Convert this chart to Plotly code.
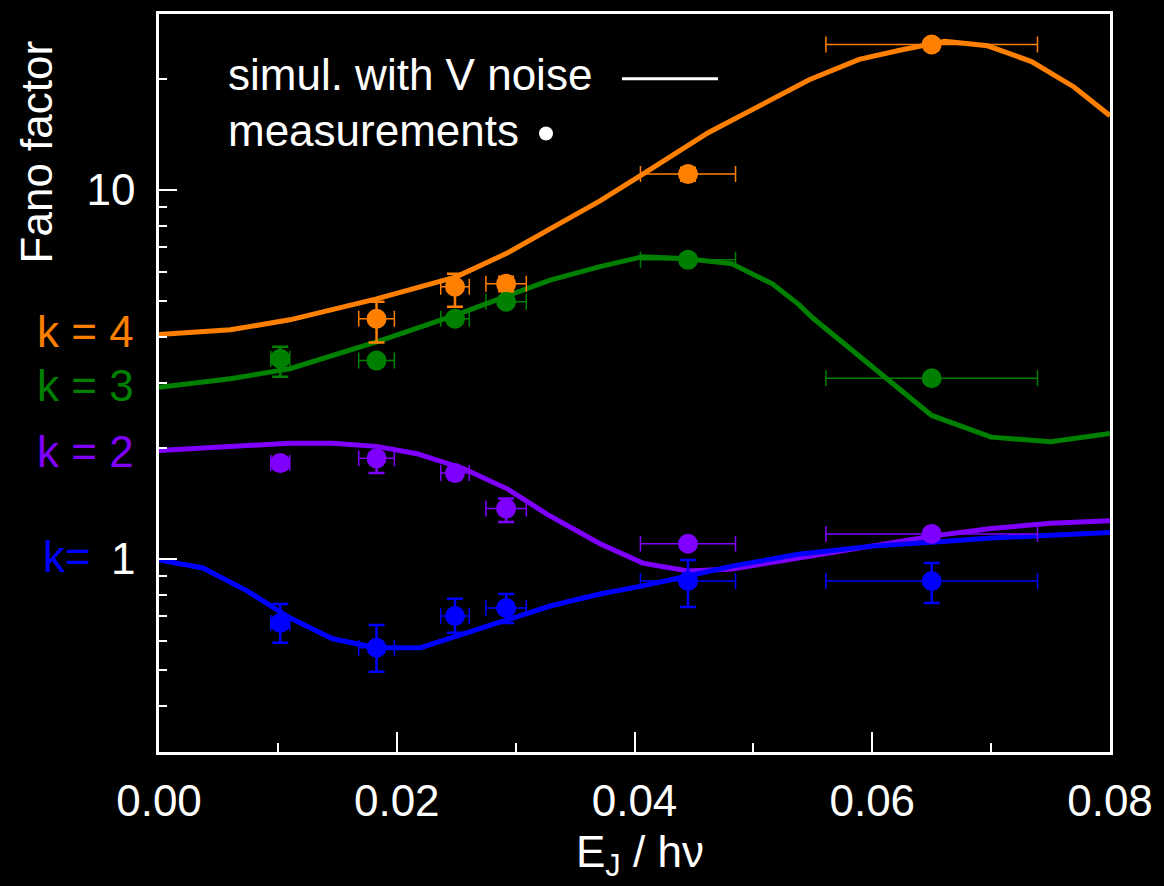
import plotly.graph_objects as go
import numpy as np

# ---------------- data ----------------
# simulated curves (x = E_J / h nu)
x_k4 = [0, 0.006, 0.011, 0.0183, 0.025, 0.0293, 0.0329, 0.0371, 0.0407, 0.0462, 0.0547, 0.0589, 0.0625, 0.0661, 0.0697, 0.0734, 0.077, 0.08]
y_k4 = [4.06, 4.18, 4.45, 5.07, 5.82, 6.75, 7.85, 9.35, 11.05, 14.3, 19.9, 22.6, 24.0, 25.3, 24.6, 22.3, 19.0, 15.9]

x_k3 = [0, 0.006, 0.011, 0.0183, 0.025, 0.0293, 0.0329, 0.0371, 0.0407, 0.0445, 0.0482, 0.0516, 0.0538, 0.055, 0.06, 0.065, 0.07, 0.075, 0.08]
y_k3 = [2.92, 3.08, 3.28, 3.88, 4.59, 5.15, 5.70, 6.20, 6.60, 6.51, 6.31, 5.57, 4.90, 4.50, 3.32, 2.45, 2.14, 2.08, 2.19]

x_k2 = [0, 0.006, 0.011, 0.0146, 0.0183, 0.0217, 0.0256, 0.0293, 0.0327, 0.0371, 0.0407, 0.0445, 0.0482, 0.0538, 0.06, 0.065, 0.07, 0.075, 0.08]
y_k2 = [1.97, 2.02, 2.06, 2.06, 2.02, 1.93, 1.76, 1.55, 1.32, 1.10, 0.975, 0.928, 0.940, 1.006, 1.084, 1.154, 1.21, 1.25, 1.27]

x_k1 = [0, 0.0037, 0.0074, 0.011, 0.0146, 0.0183, 0.022, 0.0256, 0.0293, 0.0329, 0.0371, 0.0407, 0.0445, 0.0482, 0.0538, 0.06, 0.065, 0.07, 0.075, 0.08]
y_k1 = [0.994, 0.946, 0.820, 0.693, 0.608, 0.575, 0.575, 0.627, 0.680, 0.746, 0.804, 0.846, 0.900, 0.957, 1.03, 1.084, 1.11, 1.14, 1.16, 1.18]

# measurements
mx_k4 = [0.0183, 0.0249, 0.0292, 0.0445, 0.065]
my_k4 = [4.48, 5.47, 5.57, 11.05, 24.8]
my_k4_up = [0.50, 0.46, 0.25, 0.45, 0.8]
my_k4_dn = [0.62, 0.64, 0.25, 0.45, 0.8]
mxe_k4 = [0.0015, 0.0012, 0.0017, 0.004, 0.0089]

mx_k3 = [0.0102, 0.0183, 0.0249, 0.0292, 0.0445, 0.065]
my_k3 = [3.49, 3.45, 4.48, 4.98, 6.47, 3.09]
my_k3_up = [0.27, 0.10, 0.12, 0.12, 0.15, 0.08]
my_k3_dn = [0.37, 0.10, 0.12, 0.12, 0.15, 0.08]
mxe_k3 = [0.0008, 0.0015, 0.0012, 0.0017, 0.004, 0.0089]

mx_k2 = [0.0102, 0.0183, 0.0249, 0.0292, 0.0445, 0.065]
my_k2 = [1.82, 1.875, 1.71, 1.37, 1.10, 1.17]
my_k2_up = [0.06, 0.06, 0.05, 0.09, 0.03, 0.03]
my_k2_dn = [0.06, 0.165, 0.05, 0.11, 0.03, 0.03]
mxe_k2 = [0.0008, 0.0015, 0.0012, 0.0017, 0.004, 0.0089]

mx_k1 = [0.0102, 0.0183, 0.0249, 0.0292, 0.0445, 0.065]
my_k1 = [0.671, 0.575, 0.701, 0.737, 0.872, 0.872]
my_k1_up = [0.085, 0.088, 0.079, 0.067, 0.122, 0.103]
my_k1_dn = [0.078, 0.080, 0.070, 0.066, 0.130, 0.112]
mxe_k1 = [0.0008, 0.0015, 0.0012, 0.0017, 0.004, 0.0089]

colors = {"k4": "#FF8000", "k3": "#008000", "k2": "#8000FF", "k1": "#0000FF"}

x_major = [0, 0.02, 0.04, 0.06, 0.08]
x_major_text = ["0.00", "0.02", "0.04", "0.06", "0.08"]
x_minor = [0.01, 0.03, 0.05, 0.07]
y_major = [1, 10]
y_major_text = ["1", "10"]
y_minor = [0.4, 0.5, 0.6, 0.7, 0.8, 0.9, 2, 3, 4, 5, 6, 7, 8, 9, 20]

FONT = "Liberation Sans, Arial, sans-serif"
FS = 44

fig = go.Figure()

curves = [("k4", x_k4, y_k4), ("k3", x_k3, y_k3), ("k2", x_k2, y_k2), ("k1", x_k1, y_k1)]
for key, xs, ys in curves:
    fig.add_trace(go.Scatter(x=xs, y=ys, mode="lines",
                             line=dict(color=colors[key], width=5),
                             showlegend=False, hoverinfo="skip"))

meas = [("k4", mx_k4, my_k4, my_k4_up, my_k4_dn, mxe_k4),
        ("k3", mx_k3, my_k3, my_k3_up, my_k3_dn, mxe_k3),
        ("k2", mx_k2, my_k2, my_k2_up, my_k2_dn, mxe_k2),
        ("k1", mx_k1, my_k1, my_k1_up, my_k1_dn, mxe_k1)]
for key, xs, ys, up, dn, xe in meas:
    c = colors[key]
    fig.add_trace(go.Scatter(
        x=xs, y=ys, mode="markers",
        marker=dict(color=c, size=20, line=dict(width=0)),
        error_y=dict(type="data", array=up, arrayminus=dn, color=c, thickness=2.5, width=8),
        error_x=dict(type="data", array=xe, color=c, thickness=1.5, width=8),
        showlegend=False, hoverinfo="skip"))

L, R, T, B = 159, 54, 11, 134
W, H = 1164, 886
pw, ph = W - L - R, H - T - B


def px(xp):
    return (xp - L) / pw


def py(yp):
    return (H - B - yp) / ph


annotations = [
    dict(text="simul. with V noise", x=px(226), y=py(72), xanchor="left", yanchor="middle"),
    dict(text="measurements", x=px(226), y=py(128), xanchor="left", yanchor="middle"),
    dict(text="k = 4", x=px(136), y=py(330), xanchor="right", yanchor="middle", font=dict(color=colors["k4"], size=FS, family=FONT)),
    dict(text="k = 3", x=px(136), y=py(384), xanchor="right", yanchor="middle", font=dict(color=colors["k3"], size=FS, family=FONT)),
    dict(text="k = 2", x=px(136), y=py(450), xanchor="right", yanchor="middle", font=dict(color=colors["k2"], size=FS, family=FONT)),
    dict(text="k=", x=px(93), y=py(556), xanchor="right", yanchor="middle", font=dict(color=colors["k1"], size=FS, family=FONT)),
    dict(text="Fano factor", x=px(36), y=py(150), xanchor="center", yanchor="middle", textangle=-90),
    dict(text="E<sub>J</sub> / hν", x=px(640), y=py(855), xanchor="center", yanchor="middle"),
]
for a in annotations:
    a.setdefault("font", dict(color="white", size=FS, family=FONT))
    a.update(xref="paper", yref="paper", showarrow=False)

shapes = [
    dict(type="line", xref="paper", yref="paper", x0=px(622), x1=px(718), y0=py(76), y1=py(76),
         line=dict(color="white", width=3)),
    dict(type="circle", xref="paper", yref="paper", x0=px(539), x1=px(553), y0=py(138), y1=py(124),
         fillcolor="white", line=dict(color="white", width=0)),
]

fig.update_layout(
    width=W, height=H,
    margin=dict(l=L, r=R, t=T, b=B, pad=0),
    paper_bgcolor="black", plot_bgcolor="black",
    font=dict(family=FONT, size=FS, color="white"),
    annotations=annotations, shapes=shapes,
    xaxis=dict(range=[0, 0.08], showgrid=False, zeroline=False,
               showline=True, linecolor="white", linewidth=2.5, mirror=True,
               tickmode="array", tickvals=x_major, ticktext=x_major_text,
               ticks="inside", ticklen=20, tickwidth=2, tickcolor="white",
               tickfont=dict(size=FS, color="white", family=FONT),
               ticklabelstandoff=8,
               minor=dict(tickmode="array", tickvals=x_minor, ticks="inside", ticklen=9,
                          tickwidth=2, tickcolor="white", showgrid=False)),
    yaxis=dict(type="log", range=[np.log10(0.3), np.log10(30)], showgrid=False, zeroline=False,
               showline=True, linecolor="white", linewidth=2.5, mirror=True,
               tickmode="array", tickvals=y_major, ticktext=y_major_text,
               ticks="inside", ticklen=18, tickwidth=2, tickcolor="white",
               tickfont=dict(size=FS, color="white", family=FONT),
               ticklabelstandoff=12,
               minor=dict(tickmode="array", tickvals=y_minor, ticks="inside", ticklen=8,
                          tickwidth=2, tickcolor="white", showgrid=False)),
)

fig.write_html("out.html")
